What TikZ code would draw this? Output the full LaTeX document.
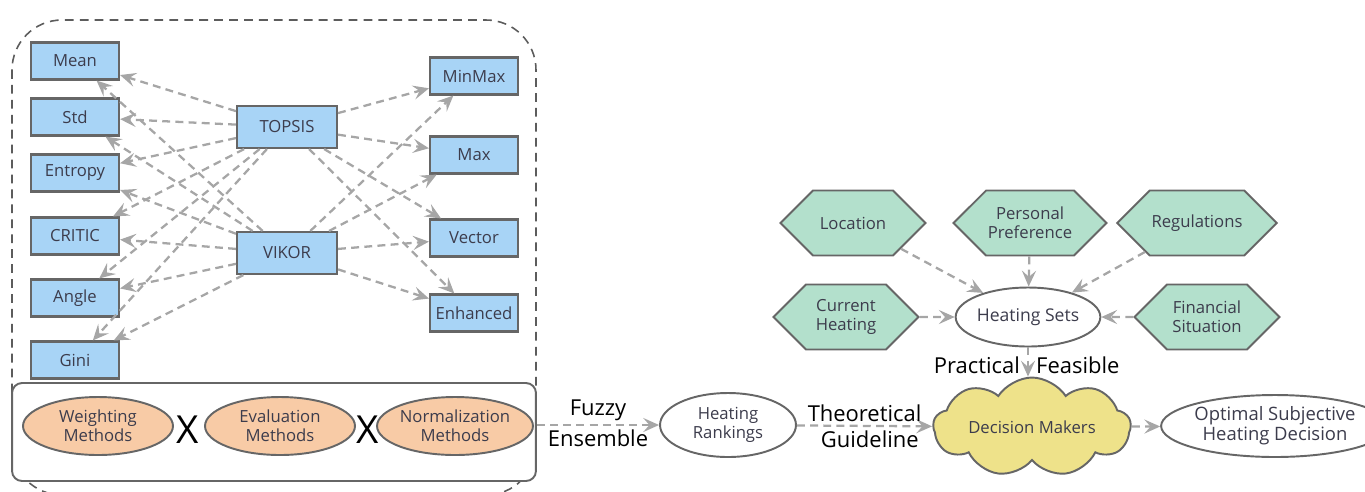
\documentclass[tikz,border=0pt]{standalone}
\usepackage{fontspec}
\setmainfont{Open Sans}
\usetikzlibrary{arrows.meta,shapes.geometric,shapes.symbols}

\definecolor{boxblue}{HTML}{A8D4F6}
\definecolor{hexgreen}{HTML}{B3E0CC}
\definecolor{ovalorange}{HTML}{F8CBA6}
\definecolor{cloudyellow}{HTML}{EEE28A}
\definecolor{edgegray}{HTML}{666666}
\definecolor{linkgray}{HTML}{A6A6A6}
\definecolor{nodetext}{HTML}{3C3C4C}

\begin{document}
\begin{tikzpicture}[x=0.02cm,y=-0.02cm,
    txt/.style={font=\fontsize{9.5}{11}\selectfont, text=nodetext, align=center},
    method/.style={txt, draw=edgegray, line width=1.2pt, fill=boxblue, minimum width=1.76cm, minimum height=0.74cm, inner sep=1pt},
    ranker/.style={method, minimum width=2cm, minimum height=0.84cm},
    family/.style={txt, ellipse, draw=edgegray, line width=1.1pt, fill=ovalorange, minimum width=3cm, minimum height=1.16cm, inner sep=0pt},
    factor/.style={txt, signal, signal to=west and east, draw=edgegray, line width=1.1pt, fill=hexgreen, minimum width=2.9cm, minimum height=1.3cm, inner sep=1pt},
    outcome/.style={txt, ellipse, draw=edgegray, line width=1.1pt, fill=white, inner sep=0pt},
    link/.style={draw=linkgray, line width=1.3pt, dash pattern=on 4.5pt off 3pt, -{Stealth[length=9pt,width=8pt,inset=3.5pt]}},
    flowtext/.style={font=\fontsize{12.5}{14}\selectfont, text=black, inner sep=1pt}]
    \useasboundingbox (0,0) rectangle (1365,491);

    % Outer dashed frame
    \draw[edgegray!90!black, line width=0.9pt, dash pattern=on 5pt off 3.5pt, rounded corners=1cm] (12,20) rectangle (536,495);

    % Weighting methods
    \node[method] (mean)    at (75,61)  {Mean};
    \node[method] (std)     at (75,117) {Std};
    \node[method] (entropy) at (75,173) {Entropy};
    \node[method] (critic)  at (75,236) {CRITIC};
    \node[method] (angle)   at (75,298) {Angle};
    \node[method] (gini)    at (75,360) {Gini};

    % Evaluation methods
    \node[ranker] (topsis) at (287,127) {TOPSIS};
    \node[ranker] (vikor)  at (287,253) {VIKOR};

    % Normalization methods
    \node[method] (minmax)   at (474,76)  {MinMax};
    \node[method] (max)      at (474,155) {Max};
    \node[method] (vector)   at (474,238) {Vector};
    \node[method] (enhanced) at (474,313) {Enhanced};

    % Connections
    \foreach \w in {mean,std,entropy,critic,angle,gini} {
        \draw[link] (topsis) -- (\w);
        \draw[link] (vikor) -- (\w);
    }
    \foreach \n in {minmax,max,vector,enhanced} {
        \draw[link] (topsis) -- (\n);
        \draw[link] (vikor) -- (\n);
    }

    % Combination of methods
    \node[draw=edgegray, line width=1.1pt, fill=white, rounded corners=0.2cm, minimum width=10.48cm, minimum height=1.96cm] (combo) at (274,432) {};
    \node[family] (weighting) at (98,426)  {Weighting\\Methods};
    \node[family] (evaluation) at (280,426) {Evaluation\\Methods};
    \node[family] (normalization) at (455,426) {Normalization\\Methods};
    \node[font=\fontsize{22}{22}\selectfont] (times1) at (188,430) {X};
    \node[font=\fontsize{22}{22}\selectfont] (times2) at (368,430) {X};

    % Rankings and decision
    \node[outcome, minimum width=2.72cm, minimum height=1.28cm] (rankings) at (728,425) {Heating\\Rankings};
    \node[txt, cloud, cloud puffs=9, cloud puff arc=115, aspect=2.6, draw=edgegray, line width=1.1pt, fill=cloudyellow, minimum width=3.95cm, minimum height=1.5cm, inner sep=0pt] (makers) at (1032,427) {Decision Makers};
    \node[outcome, font=\fontsize{10.5}{11.5}\selectfont, minimum width=3.6cm, minimum height=1.24cm] (optimal) at (1275,426) {Optimal Subjective\\Heating Decision};

    \draw[link] (rankings.west -| combo.east) -- (rankings.west)
        node[flowtext, midway, above=1pt] {Fuzzy}
        node[flowtext, midway, below=1pt] {Ensemble};
    \draw[link] (rankings) -- (makers)
        node[flowtext, midway, above=1pt] {Theoretical}
        node[flowtext, midway, below=1pt, xshift=3] {Guideline};
    \draw[link] (makers) -- (optimal);

    % Heating factors
    \node[factor] (location)  at (853,223)  {Location};
    \node[factor] (personal)  at (1030,223) {Personal\\Preference};
    \node[factor] (rules)     at (1197,223) {Regulations};
    \node[factor] (current)   at (846,317)  {Current\\Heating};
    \node[factor] (financial) at (1207,317) {Financial\\Situation};
    \node[outcome, font=\fontsize{10}{11}\selectfont, minimum width=2.74cm, minimum height=1.18cm] (sets) at (1028,317) {Heating Sets};

    \foreach \f in {location,personal,rules,current,financial}
        \draw[link] (\f) -- (sets);
    \draw[link] (sets) -- (sets |- makers.north)
        node[flowtext, midway, left=3pt, yshift=-2] {Practical}
        node[flowtext, midway, right=3pt, yshift=-2] {Feasible};
\end{tikzpicture}
\end{document}
